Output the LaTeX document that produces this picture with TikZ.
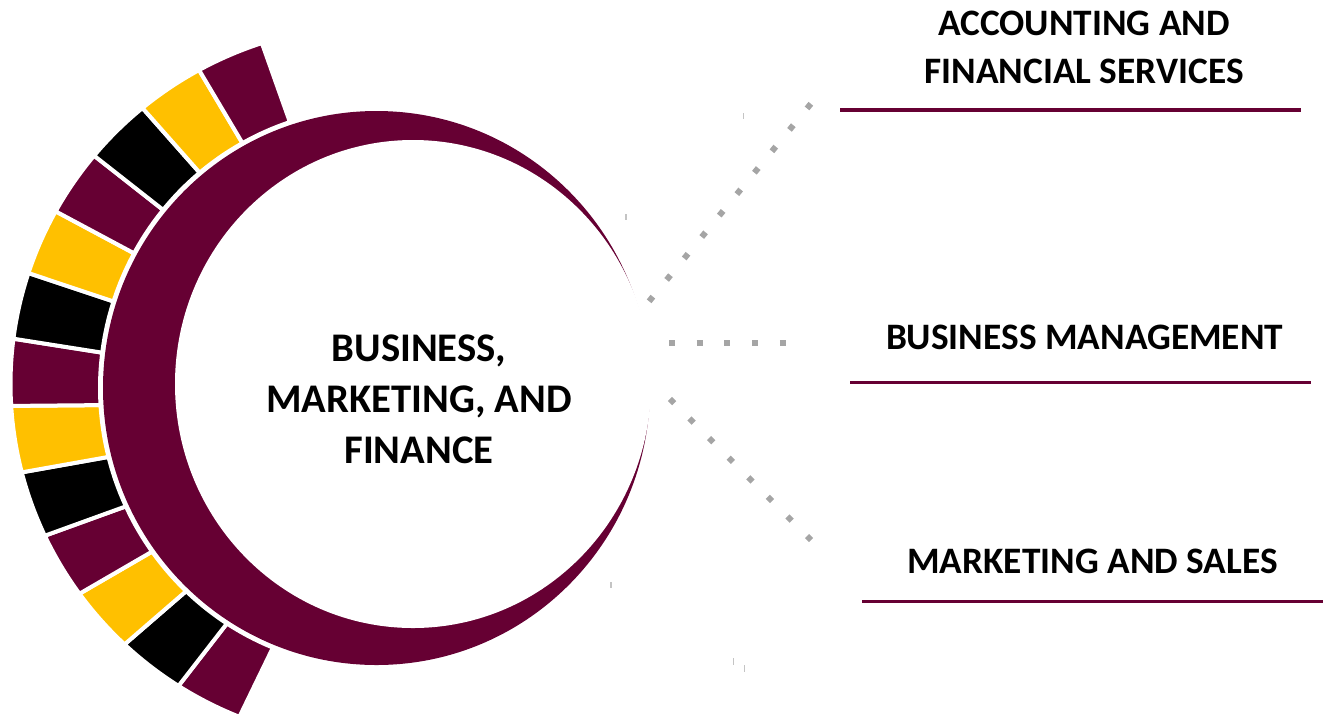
\documentclass[tikz,border=0pt]{standalone}
\usepackage{fontspec}
\setmainfont{Carlito}
\definecolor{maroonc}{HTML}{660033}
\definecolor{goldc}{HTML}{FFC000}
\definecolor{blackc}{HTML}{000000}
\definecolor{dotc}{HTML}{A5A5A5}
\definecolor{tickc}{HTML}{C4C4C4}
\tikzset{
  segbox/.style={draw=white, line width=3pt, line join=miter},
  dotline/.style={draw=dotc, line width=4.5pt, dash pattern=on 4.5pt off 16.275pt},
  uline/.style={draw=maroonc, line width=2.6pt},
  hubtext/.style={font=\fontsize{30.5}{38}\selectfont\bfseries, align=center, inner sep=0pt},
  lbltext/.style={font=\fontsize{28}{36}\selectfont\bfseries, align=center, inner sep=0pt},
  tickline/.style={draw=tickc, line width=0.8pt}
}
\begin{document}
\begin{tikzpicture}[x=0.75pt,y=-0.75pt]
\useasboundingbox (0,0) rectangle (1327,715);
% crescent
\fill[maroonc] (376.5,388) ellipse[x radius=205.125pt, y radius=207.75pt];
\fill[white] (413,384) ellipse[x radius=178.5pt, y radius=183pt];
% segments
\foreach \i/\c in {0/maroonc,1/blackc,2/goldc,3/maroonc,4/blackc,5/goldc,6/maroonc,7/blackc,8/goldc,9/maroonc,10/blackc,11/goldc,12/maroonc}{
  \pgfmathsetmacro\ta{112+\i*10.75}
  \pgfmathsetmacro\tb{\ta+10.75}
  \filldraw[segbox, fill=\c] plot[domain=\ta:\tb, samples=14] ({376.5+366*cos(\x)},{384+359*sin(\x)})
     -- plot[domain=\tb:\ta, samples=14] ({376.5+276.5*cos(\x)},{388+280*sin(\x)}) -- cycle;
}
% hub text (base = last line baseline)
\node[hubtext, anchor=base] (hub) at (419,463.3) {BUSINESS,\\MARKETING, AND\\FINANCE};
% labels
\node[lbltext, anchor=base] (acc) at (1084,83) {ACCOUNTING AND\\FINANCIAL SERVICES};
\node[lbltext, anchor=base] (bm) at (1084.5,349) {BUSINESS MANAGEMENT};
\node[lbltext, anchor=base] (ms) at (1092.5,573) {MARKETING AND SALES};
% underlines
\draw[uline] (840,110) -- (1301,110);
\draw[uline] (850,382.7) -- (1311,382.7);
\draw[uline] (862,601.7) -- (1323,601.7);
% dotted connectors
\coordinate (d1s) at (649.1,301.3);
\coordinate (d1e) at (810.9,103.7);
\coordinate (d2s) at (669,343);
\coordinate (d2e) at (785.8,343);
\coordinate (d3s) at (669.9,398.9);
\coordinate (d3e) at (811.1,540.1);
\draw[dotline] (d1s) -- (d1e);
\draw[dotline] (d2s) -- (d2e);
\draw[dotline] (d3s) -- (d3e);
% small ticks
\draw[tickline] (743.7,113) -- (743.7,119);
\draw[tickline] (626,214) -- (626,220);
\draw[tickline] (611,582) -- (611,588);
\draw[tickline] (733.7,658) -- (733.7,665);
\draw[tickline] (744.7,665) -- (744.7,672);
\end{tikzpicture}
\end{document}
